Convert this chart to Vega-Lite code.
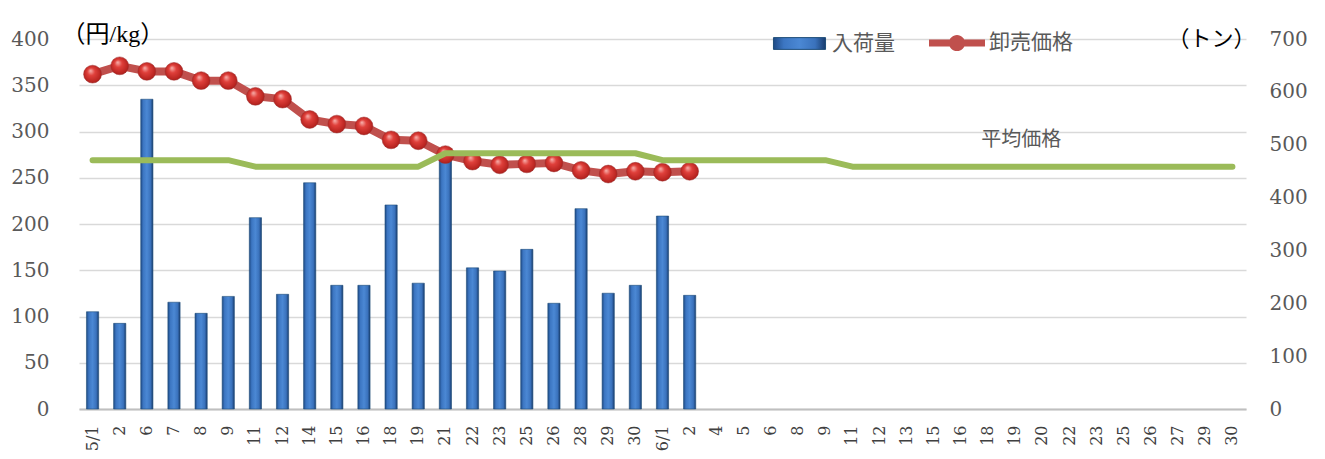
{
  "$schema": "https://vega.github.io/schema/vega-lite/v6.json",
  "width": 1167,
  "height": 370,
  "autosize": {"type": "none"},
  "padding": {"left": 79, "top": 39, "right": 79, "bottom": 50},
  "background": "white",
  "config": {"view": {"stroke": null}},
  "data": {
    "values": [
      {"d": "5/1", "tons": 184, "price": 362, "avg": 269},
      {"d": "5/2", "tons": 162, "price": 371, "avg": 269},
      {"d": "5/6", "tons": 586, "price": 365, "avg": 269},
      {"d": "5/7", "tons": 202, "price": 365, "avg": 269},
      {"d": "5/8", "tons": 181, "price": 355, "avg": 269},
      {"d": "5/9", "tons": 213, "price": 355, "avg": 269},
      {"d": "5/11", "tons": 362, "price": 338, "avg": 262},
      {"d": "5/12", "tons": 217, "price": 335, "avg": 262},
      {"d": "5/14", "tons": 428, "price": 313, "avg": 262},
      {"d": "5/15", "tons": 234, "price": 308, "avg": 262},
      {"d": "5/16", "tons": 234, "price": 306, "avg": 262},
      {"d": "5/18", "tons": 386, "price": 291, "avg": 262},
      {"d": "5/19", "tons": 238, "price": 290, "avg": 262},
      {"d": "5/21", "tons": 478, "price": 275, "avg": 276.5},
      {"d": "5/22", "tons": 267, "price": 268, "avg": 276.5},
      {"d": "5/23", "tons": 261, "price": 264, "avg": 276.5},
      {"d": "5/25", "tons": 302, "price": 265, "avg": 276.5},
      {"d": "5/26", "tons": 200, "price": 266, "avg": 276.5},
      {"d": "5/28", "tons": 379, "price": 258, "avg": 276.5},
      {"d": "5/29", "tons": 219, "price": 254, "avg": 276.5},
      {"d": "5/30", "tons": 234, "price": 257, "avg": 276.5},
      {"d": "6/1", "tons": 365, "price": 256, "avg": 269},
      {"d": "6/2", "tons": 215, "price": 257, "avg": 269},
      {"d": "6/4", "tons": null, "price": null, "avg": 269},
      {"d": "6/5", "tons": null, "price": null, "avg": 269},
      {"d": "6/6", "tons": null, "price": null, "avg": 269},
      {"d": "6/8", "tons": null, "price": null, "avg": 269},
      {"d": "6/9", "tons": null, "price": null, "avg": 269},
      {"d": "6/11", "tons": null, "price": null, "avg": 262},
      {"d": "6/12", "tons": null, "price": null, "avg": 262},
      {"d": "6/13", "tons": null, "price": null, "avg": 262},
      {"d": "6/15", "tons": null, "price": null, "avg": 262},
      {"d": "6/16", "tons": null, "price": null, "avg": 262},
      {"d": "6/18", "tons": null, "price": null, "avg": 262},
      {"d": "6/19", "tons": null, "price": null, "avg": 262},
      {"d": "6/20", "tons": null, "price": null, "avg": 262},
      {"d": "6/22", "tons": null, "price": null, "avg": 262},
      {"d": "6/23", "tons": null, "price": null, "avg": 262},
      {"d": "6/25", "tons": null, "price": null, "avg": 262},
      {"d": "6/26", "tons": null, "price": null, "avg": 262},
      {"d": "6/27", "tons": null, "price": null, "avg": 262},
      {"d": "6/29", "tons": null, "price": null, "avg": 262},
      {"d": "6/30", "tons": null, "price": null, "avg": 262}
    ]
  },
  "encoding": {
    "x": {
      "field": "d",
      "type": "nominal",
      "sort": null,
      "scale": {
        "domain": ["5/1","5/2","5/6","5/7","5/8","5/9","5/11","5/12","5/14","5/15","5/16","5/18","5/19","5/21","5/22","5/23","5/25","5/26","5/28","5/29","5/30","6/1","6/2","6/4","6/5","6/6","6/8","6/9","6/11","6/12","6/13","6/15","6/16","6/18","6/19","6/20","6/22","6/23","6/25","6/26","6/27","6/29","6/30"],
        "paddingInner": 0.55,
        "paddingOuter": 0.275
      },
      "axis": {
        "title": null,
        "labelAngle": 270,
        "labelExpr": "split(datum.value, '/')[1] === '1' ? datum.value : split(datum.value, '/')[1]",
        "labelFont": "DejaVu Serif",
        "labelFontSize": 16,
        "labelColor": "#404040",
        "labelPadding": 16,
        "labelOverlap": false,
        "labelBound": false,
        "ticks": false,
        "grid": false,
        "domainColor": "#BFBFBF",
        "domainWidth": 2
      }
    }
  },
  "layer": [
    {
      "mark": {
        "type": "bar",
        "strokeWidth": 0.6,
        "fill": {
          "gradient": "linear", "x1": 0, "x2": 1, "y1": 0, "y2": 0,
          "stops": [
            {"offset": 0, "color": "#1E4A85"},
            {"offset": 0.2, "color": "#3C76C2"},
            {"offset": 0.5, "color": "#4B88D4"},
            {"offset": 0.8, "color": "#3A72BC"},
            {"offset": 1, "color": "#183C6E"}
          ]
        }
      },
      "encoding": {
        "y": {
          "field": "tons",
          "type": "quantitative",
          "scale": {"domain": [0, 700], "nice": false},
          "axis": {
            "orient": "right",
            "values": [0, 100, 200, 300, 400, 500, 600, 700],
            "grid": false,
            "domain": false,
            "ticks": false,
            "labelPadding": 23,
            "labelFont": "DejaVu Serif",
            "labelFontSize": 20,
            "labelColor": "#595959",
            "title": "（トン）",
            "titleAngle": 0,
            "titleX": 9,
            "titleY": -1,
            "titleAlign": "right",
            "titleBaseline": "middle",
            "titleFont": "Liberation Serif, Noto Sans CJK JP",
            "titleFontSize": 22,
            "titleFontWeight": "normal",
            "titleColor": "#000000"
          }
        },
        "stroke": {
          "datum": "入荷量",
          "scale": {"domain": ["入荷量"], "range": ["#1F4E79"]},
          "legend": {
            "orient": "none",
            "legendX": 692,
            "legendY": -24,
            "direction": "horizontal",
            "title": null,
            "labelFont": "Noto Sans CJK JP",
            "labelFontSize": 21,
            "labelColor": "#595959",
            "symbolType": "M-0.93,-0.21L0.93,-0.21L0.93,0.21L-0.93,0.21Z",
            "symbolSize": 3136,
            "symbolStrokeWidth": 1,
            "labelOffset": 4,
            "padding": 0
          }
        }
      }
    },
    {
      "layer": [
        {
          "mark": {"type": "line", "color": "#C0504D", "strokeWidth": 8, "strokeCap": "round", "strokeJoin": "round"},
          "encoding": {
            "y": {
              "field": "price",
              "type": "quantitative",
              "scale": {"domain": [0, 400], "nice": false},
              "axis": {
                "orient": "left",
                "values": [0, 50, 100, 150, 200, 250, 300, 350, 400],
                "grid": true,
                "gridColor": "#D9D9D9",
                "gridWidth": 1.5,
                "domain": false,
                "ticks": false,
                "labelPadding": 30,
                "labelFont": "DejaVu Serif",
                "labelFontSize": 20,
                "labelColor": "#595959",
                "title": "（円/kg）",
                "titleAngle": 0,
                "titleX": -18,
                "titleY": -5,
                "titleAlign": "left",
                "titleBaseline": "middle",
                "titleFont": "Liberation Serif, Noto Sans CJK JP",
                "titleFontSize": 24,
                "titleFontWeight": "normal",
                "titleColor": "#000000"
              }
            },
            "opacity": {
              "datum": "卸売価格",
              "type": "ordinal",
              "scale": {"domain": ["卸売価格"], "range": [1]},
              "legend": {
                "orient": "none",
                "legendX": 850,
                "legendY": -24,
                "direction": "horizontal",
                "title": null,
                "labelFont": "Noto Sans CJK JP",
                "labelFontSize": 21,
                "labelColor": "#595959",
                "symbolType": "M-1,-0.125L1,-0.125L1,0.125L-1,0.125Z M0.29,0 A0.29,0.29 0 1,1 -0.29,0 A0.29,0.29 0 1,1 0.29,0Z",
                "symbolSize": 3136,
                "symbolFillColor": "#C0504D",
                "symbolStrokeColor": "#C0504D",
                "symbolStrokeWidth": 0,
                "labelOffset": 4,
                "padding": 0
              }
            }
          }
        },
        {
          "mark": {
            "type": "circle",
            "size": 320,
            "opacity": 1,
            "stroke": "#A03030",
            "strokeWidth": 0.5,
            "fill": {
              "gradient": "radial", "x1": 0.38, "y1": 0.3, "x2": 0.5, "y2": 0.5, "r1": 0, "r2": 0.6,
              "stops": [
                {"offset": 0, "color": "#F8B4B0"},
                {"offset": 0.35, "color": "#E0403B"},
                {"offset": 0.8, "color": "#B82420"},
                {"offset": 1, "color": "#7E1512"}
              ]
            }
          },
          "encoding": {
            "y": {"field": "price", "type": "quantitative"}
          }
        },
        {
          "mark": {"type": "line", "color": "#9BBB59", "strokeWidth": 6, "strokeCap": "round", "strokeJoin": "round"},
          "encoding": {
            "y": {"field": "avg", "type": "quantitative"}
          }
        },
        {
          "data": {"values": [{"label": "平均価格", "d": "6/19", "v": 291}]},
          "mark": {"type": "text", "font": "Noto Sans CJK JP", "fontSize": 20, "color": "#595959", "dx": 6},
          "encoding": {
            "y": {"field": "v", "type": "quantitative"},
            "text": {"field": "label"}
          }
        }
      ]
    }
  ],
  "resolve": {"scale": {"y": "independent"}}
}
